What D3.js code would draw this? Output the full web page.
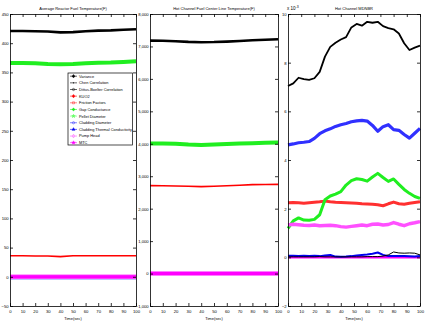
<!DOCTYPE html>
<html>
<head>
<meta charset="utf-8">
<script src="https://cdn.jsdelivr.net/npm/d3@7"></script>
<style>
  body { margin: 0; background: #fff; }
  svg text { font-family: "Liberation Sans", Arial, sans-serif; fill: #000; }
  .axis path, .axis line { stroke: #000; stroke-width: 0.8; }
  .axis text { font-size: 4.2px; }
  .title, .xlabel { font-size: 4px; }
  .legend text { font-size: 3.9px; }
</style>
</head>
<body>
<svg id="chart" width="425" height="332"></svg>
<script>
/*** DATA ***/

// legend entries
let names = ["Variance", "Chen Correlation", "Dittus-Boelter Correlation", "KUO2", "Friction Factors",
             "Gap Conductance", "Pellet Diameter", "Cladding Diameter", "Cladding Thermal Conductivity",
             "Pump Head", "MTC"];
let colors = ["#000", "#000", "#000", "#ff0000", "#ff3030", "#20ee20", "#60ff60", "#3030ff", "#0000ee", "#ff50ff", "#ff00ff"];

// time grids
let t12 = [0, 10, 20, 30, 40, 50, 60, 70, 80, 90, 100];
let t3 = [0, 4, 8, 12, 16, 20, 24, 28, 32, 36, 40, 44, 48, 52, 56, 60, 64, 68, 72, 76, 80, 84, 88, 92, 96, 100];

// panel 1: average reactor fuel temperature
let p1_variance = [421, 421, 420.5, 420, 418.5, 419, 420.5, 421.5, 422, 423, 424];
let p1_kuo2     = [36, 36, 35.5, 35.5, 34.5, 36, 36, 36, 36, 36, 36];
let p1_gap      = [366, 366, 365.5, 364.5, 364, 364.5, 365.5, 366.5, 367, 368, 369];
let p1_clad_k   = [-3, -3, -3, -3, -3, -3, -3, -3, -3, -3, -3];
let p1_zero     = [0, 0, 0, 0, 0, 0, 0, 0, 0, 0, 0];

// panel 2: hot channel fuel center line temperature
let p2_variance = [7180, 7175, 7160, 7140, 7130, 7135, 7150, 7170, 7190, 7205, 7220];
let p2_kuo2     = [2710, 2705, 2700, 2690, 2680, 2690, 2705, 2720, 2740, 2745, 2750];
let p2_gap      = [4010, 4005, 4000, 3975, 3965, 3975, 3990, 4005, 4015, 4030, 4040];
let p2_zero     = [0, 0, 0, 0, 0, 0, 0, 0, 0, 0, 0];

// panel 3: hot channel MDNBR (x 1e-3)
let p3_variance = [7.04, 7.15, 7.38, 7.32, 7.29, 7.36, 7.62, 8.25, 8.65, 8.82, 8.95, 9.05, 9.45, 9.59, 9.52, 9.68,
                   9.64, 9.68, 9.5, 9.42, 9.37, 9.2, 8.8, 8.52, 8.62, 8.7];
let p3_chen     = [0.02, 0.02, 0.02, 0.02, 0.02, 0.02, 0.03, 0.02, 0.02, 0.02, 0.02, 0.02, 0.02, 0.02, 0.02, 0.03,
                   0.03, 0.03, 0.05, 0.1, 0.22, 0.18, 0.17, 0.18, 0.17, 0.1];
let p3_friction = [2.24, 2.25, 2.24, 2.22, 2.24, 2.26, 2.28, 2.31, 2.28, 2.26, 2.25, 2.24, 2.23, 2.22, 2.2, 2.19,
                   2.18, 2.16, 2.12, 2.2, 2.27, 2.2, 2.18, 2.22, 2.25, 2.28];
let p3_gap      = [1.19, 1.5, 1.62, 1.53, 1.52, 1.56, 1.75, 2.37, 2.52, 2.6, 2.7, 2.97, 3.15, 3.23, 3.2, 3.13,
                   3.3, 3.45, 3.28, 3.12, 3.22, 3.0, 2.79, 2.63, 2.5, 2.42];
let p3_clad_d   = [4.62, 4.66, 4.71, 4.73, 4.76, 4.89, 5.08, 5.2, 5.28, 5.38, 5.45, 5.5, 5.57, 5.61, 5.63, 5.6,
                   5.42, 5.18, 5.37, 5.45, 5.25, 5.22, 5.05, 4.9, 5.1, 5.3];
let p3_clad_k   = [0.07, 0.06, 0.05, 0.06, 0.05, 0.06, 0.05, 0.08, 0.1, 0.03, 0.02, 0.03, 0.05, 0.08, 0.1, 0.12,
                   0.15, 0.2, 0.1, 0.05, 0.05, 0.05, 0.05, 0.04, 0.03, 0.05];
let p3_pump     = [1.33, 1.36, 1.34, 1.32, 1.31, 1.33, 1.3, 1.31, 1.32, 1.3, 1.26, 1.24, 1.27, 1.3, 1.33, 1.3,
                   1.36, 1.37, 1.33, 1.35, 1.43, 1.36, 1.3, 1.38, 1.42, 1.47];
let p3_zero     = t3.map(() => 0);

// tick values
let xticks = [0, 10, 20, 30, 40, 50, 60, 70, 80, 90, 100];
let p1_yticks = [-50, 0, 50, 100, 150, 200, 250, 300, 350, 400, 450];
let p2_yticks = [-1000, 0, 1000, 2000, 3000, 4000, 5000, 6000, 7000, 8000];
let p3_yticks = [-2, 0, 2, 4, 6, 8, 10];

/*** LAYOUT ***/

let svg = d3.select("#chart");
let top_y = 14, bot_y = 306;

// series: [legend index, values, stroke width]
let panels = [
    {x0: 10, x1: 136, ydom: [-50, 450], yticks: p1_yticks, t: t12,
     title: "Average Reactor Fuel Temperature(F)",
     series: [[8, p1_clad_k, 1.5], [0, p1_variance, 2.6], [5, p1_gap, 4], [3, p1_kuo2, 1.6],
              [9, p1_zero, 4.5], [10, p1_zero, 3]]},
    {x0: 150, x1: 278, ydom: [-1000, 8000], yticks: p2_yticks, t: t12,
     title: "Hot Channel Fuel Center Line Temperature(F)",
     series: [[0, p2_variance, 2.6], [5, p2_gap, 4], [3, p2_kuo2, 1.6], [8, p2_zero, 1.5],
              [9, p2_zero, 4.5], [10, p2_zero, 3]]},
    {x0: 288, x1: 420, ydom: [-2, 10], yticks: p3_yticks, t: t3,
     title: "Hot Channel MDNBR",
     series: [[10, p3_zero, 2.5], [8, p3_clad_k, 2], [1, p3_chen, 1], [0, p3_variance, 1.8],
              [4, p3_friction, 3], [5, p3_gap, 3], [7, p3_clad_d, 3.2], [9, p3_pump, 3.4]]}
];

panels.forEach((p, pi) => {
    let x = d3.scaleLinear().domain([0, 100]).range([p.x0, p.x1]);
    let y = d3.scaleLinear().domain(p.ydom).range([bot_y, top_y]);
    let g = svg.append("g");

    // lines
    let line = d3.line().x((d, i) => x(p.t[i])).y((d) => y(d));
    p.series.forEach((s) => {
        g.append("path")
            .datum(s[1])
            .attr("fill", "none")
            .attr("stroke", colors[s[0]])
            .attr("stroke-width", s[2])
            .attr("stroke-linejoin", "round")
            .attr("d", line);
    });

    // axes with inward ticks, box on
    g.append("g").attr("class", "axis")
        .attr("transform", `translate(0, ${bot_y})`)
        .call(d3.axisBottom(x).tickValues(xticks).tickSizeInner(-3).tickSizeOuter(0).tickPadding(4.5));
    g.append("g").attr("class", "axis")
        .attr("transform", `translate(0, ${top_y})`)
        .call(d3.axisTop(x).tickValues(xticks).tickSizeInner(-3).tickSizeOuter(0).tickFormat(""));
    g.append("g").attr("class", "axis")
        .attr("transform", `translate(${p.x0}, 0)`)
        .call(d3.axisLeft(y).tickValues(p.yticks).tickSizeInner(-3).tickSizeOuter(0).tickPadding(1.3));
    g.append("g").attr("class", "axis")
        .attr("transform", `translate(${p.x1}, 0)`)
        .call(d3.axisRight(y).tickValues(p.yticks).tickSizeInner(-3).tickSizeOuter(0).tickFormat(""));

    g.selectAll(".axis .domain").attr("stroke-width", 1.2);

    // title and x label
    g.append("text").classed("title", true)
        .attr("x", (p.x0 + p.x1) / 2).attr("y", 10)
        .attr("text-anchor", "middle")
        .text(p.title);
    g.append("text").classed("xlabel", true)
        .attr("x", (p.x0 + p.x1) / 2).attr("y", 320)
        .attr("text-anchor", "middle")
        .text("Time(sec)");
});

// exponent label on the MDNBR panel
let exp = svg.append("text").attr("x", 287).attr("y", 10).style("font-size", "4.5px");
exp.append("tspan").text("x 10");
exp.append("tspan").attr("dy", -2).style("font-size", "3.5px").text("-3");

/*** LEGEND ***/

let lg = svg.append("g").classed("legend", true);
lg.append("rect")
    .attr("x", 68).attr("y", 73).attr("width", 64.5).attr("height", 72)
    .attr("fill", "#fff").attr("stroke", "#000").attr("stroke-width", 0.7);

let markers = [d3.symbolCross, null, d3.symbolCircle, d3.symbolCross, d3.symbolSquare, d3.symbolCross,
               d3.symbolStar, d3.symbolCircle, d3.symbolTriangle, d3.symbolDiamond, d3.symbolStar];

names.forEach((n, i) => {
    let yy = 76.2 + i * 6.65;
    lg.append("line")
        .attr("x1", 70).attr("x2", 77).attr("y1", yy).attr("y2", yy)
        .attr("stroke", colors[i]).attr("stroke-width", 0.6);
    if (markers[i]) {
        let hollow = [2, 4, 7, 9].includes(i);
        lg.append("path")
            .attr("transform", `translate(73.5, ${yy})`)
            .attr("d", d3.symbol().type(markers[i]).size(4)())
            .attr("fill", hollow ? "none" : colors[i])
            .attr("stroke", colors[i]).attr("stroke-width", 0.5);
    } else {
        lg.append("circle").attr("cx", 73.5).attr("cy", yy).attr("r", 0.6).attr("fill", colors[i]);
    }
    lg.append("text")
        .attr("x", 79).attr("y", yy + 1.4)
        .text(n);
});
</script>
</body>
</html>
